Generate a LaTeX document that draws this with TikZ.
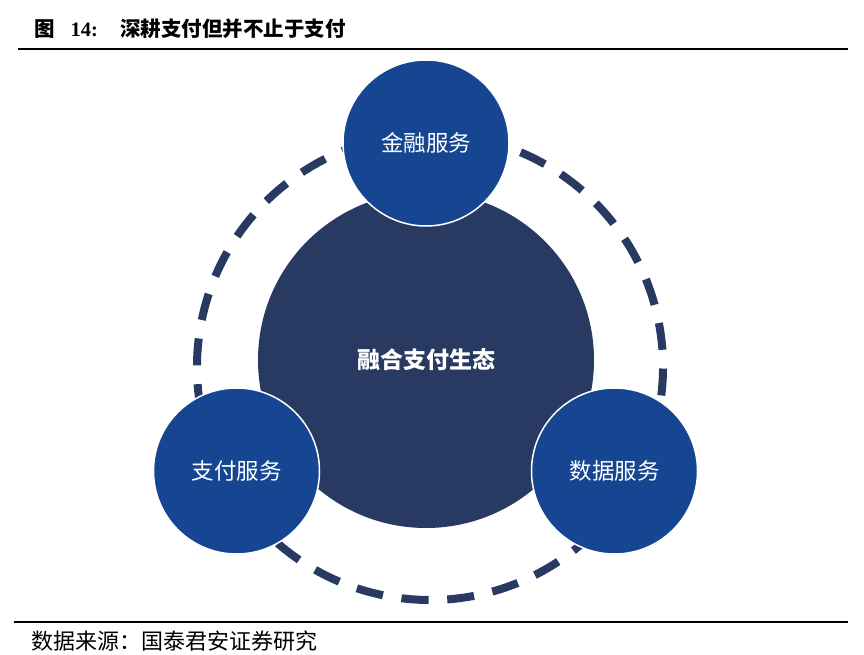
\documentclass[tikz,border=0pt]{standalone}
\usepackage{fontspec}
\newfontfamily\cjk{Noto Sans CJK SC}
\newfontfamily\tnr{Liberation Serif}
\definecolor{navy}{RGB}{40,58,98}
\definecolor{midblue}{RGB}{22,69,145}
\tikzset{
  ring/.style={draw=navy, line width=8pt, dash pattern=on 27pt off 18.75pt},
  hub/.style={circle, fill=navy, minimum size=336pt, inner sep=0pt, text=white,
    font=\cjk\bfseries\fontsize{23}{23}\selectfont},
  sat/.style={circle, fill=midblue, draw=white, line width=1.5pt, minimum size=166pt,
    inner sep=0pt, text=white, font=\cjk\fontsize{22.5}{22.5}\selectfont},
  rulestyle/.style={line width=1.2pt, black},
  plain/.style={anchor=base west, inner sep=0pt, text=black}
}
\begin{document}
\begin{tikzpicture}[x=1pt,y=1pt]
\useasboundingbox (0,0) rectangle (864,654);
\fill[white] (0,0) rectangle (864,654);
% title
\node[plain] (title) at (34,617)
  {{\cjk\bfseries\fontsize{20.5}{20.5}\selectfont 图}\hspace{16pt}{\tnr\bfseries\fontsize{20.5}{20.5}\selectfont 14:}\hspace{22pt}{\cjk\bfseries\fontsize{20.5}{20.5}\selectfont 深耕支付但并不止于支付}};
\coordinate (tl) at (18,605);
\coordinate (tr) at (848,605);
\draw[rulestyle] (tl) -- (tr);
% dashed ring
\coordinate (rc) at (430,287);
\draw[ring] (rc) ++(263:233) arc[start angle=263, end angle=623, radius=233];
% hub
\node[hub] (hub) at (426,294) {融合支付生态};
% satellites
\node[sat] (fin) at (426,511) {金融服务};
\node[sat] (pay) at (236.5,183) {支付服务};
\node[sat] (data) at (614.5,183) {数据服务};
% bottom rule and source
\coordinate (bl) at (14,32);
\coordinate (br) at (848,32);
\draw[rulestyle] (bl) -- (br);
\node[plain] (src) at (31,5) {\cjk\fontsize{22}{22}\selectfont 数据来源：国泰君安证券研究};
\end{tikzpicture}
\end{document}
